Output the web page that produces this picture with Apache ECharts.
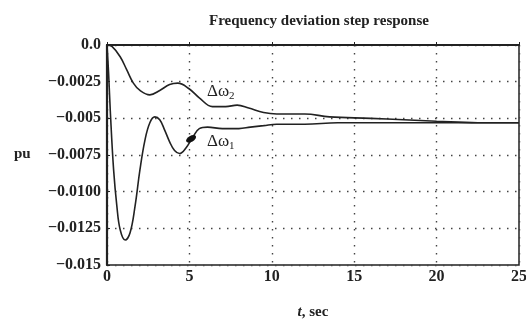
<!DOCTYPE html>
<html>
<head>
<meta charset="utf-8">
<script src="https://cdn.jsdelivr.net/npm/echarts@6/dist/echarts.min.js"></script>
<style>
  html, body { margin: 0; padding: 0; background: #fff; }
  #main { width: 526px; height: 321px; }
</style>
</head>
<body>
<div id="main"></div>
<script>
// values (pu vs seconds)
const times1 = [0, 0.1, 0.2, 0.4, 0.6, 0.8, 1.1, 1.4, 1.7, 2.0, 2.3, 2.6, 2.9, 3.2, 3.5, 3.8, 4.1, 4.4, 4.8, 5.2, 5.6, 6.1, 7, 8, 8.7, 9.5, 10.3, 12, 14, 16, 20, 25]
const dw1 = [0, -0.002, -0.0045, -0.0085, -0.011, -0.0126, -0.0133, -0.0128, -0.011, -0.0085, -0.0065, -0.0053, -0.0049, -0.0051, -0.0058, -0.0066, -0.0072, -0.0074, -0.007, -0.0063, -0.0057, -0.0056, -0.0057, -0.0057, -0.0056, -0.0055, -0.0054, -0.0054, -0.0053, -0.0053, -0.0053, -0.0053]
const times2 = [0, 0.3, 0.8, 1.2, 1.6, 2.0, 2.6, 3.2, 3.8, 4.3, 5.0, 5.6, 6.4, 7.2, 7.9, 8.6, 9.5, 10.3, 12, 13.5, 16, 18, 20, 22.5, 25]
const dw2 = [0, -0.0001, -0.0008, -0.0017, -0.0026, -0.0031, -0.0034, -0.0031, -0.0027, -0.0026, -0.003, -0.0036, -0.0042, -0.0042, -0.0041, -0.0043, -0.0046, -0.0047, -0.0047, -0.0049, -0.005, -0.0051, -0.0052, -0.0053, -0.0053]
const yLabels = { '0': '0.0', '-25': '\u22120.0025', '-50': '\u22120.005', '-75': '\u22120.0075', '-100': '\u22120.0100', '-125': '\u22120.0125', '-150': '\u22120.015' }

const font = '"Liberation Serif", "DejaVu Serif", serif'
const ink = '#222'

const chart = echarts.init(document.getElementById('main'))

const option = {
    animation: false,
    backgroundColor: '#fff',
    title: {
        text: 'Frequency deviation step response',
        left: 314,
        top: 9,
        textAlign: 'center',
        textStyle: { fontFamily: font, fontSize: 15, fontWeight: 'bold', color: ink }
    },
    grid: {
        left: 107, right: 7, top: 45, bottom: 56,
        outerBoundsMode: 'none', containLabel: false,
        show: true, borderColor: ink, borderWidth: 1.5, backgroundColor: 'transparent'
    },
    xAxis: {
        type: 'value',
        min: 0,
        max: 25,
        interval: 5,
        axisLine: { show: true, lineStyle: { color: ink, width: 2.2 } },
        axisTick: { show: true, inside: true, length: 3, lineStyle: { color: ink } },
        axisLabel: { fontFamily: font, fontSize: 16, fontWeight: 'bold', color: ink, margin: 4 },
        splitLine: { show: true, lineStyle: { type: [1.5, 6.5], color: '#444', width: 1.4 } },
        name: '{i|t}, sec',
        nameLocation: 'middle',
        nameGap: 40,
        nameTextStyle: {
            fontFamily: font, fontSize: 15, fontWeight: 'bold', color: ink,
            rich: { i: { fontFamily: font, fontSize: 15, fontStyle: 'italic', fontWeight: 'bold', color: ink } }
        }
    },
    yAxis: {
        type: 'value',
        min: -0.015,
        max: 0,
        interval: 0.0025,
        axisLine: { show: true, lineStyle: { color: ink, width: 2.2 } },
        axisTick: { show: true, inside: true, length: 3, lineStyle: { color: ink } },
        axisLabel: {
            fontFamily: font, fontSize: 16, fontWeight: 'bold', color: ink, margin: 6,
            formatter: v => yLabels[String(Math.round(v * 10000))] || ''
        },
        splitLine: { show: true, lineStyle: { type: [1.5, 6.5], color: '#444', width: 1.4 } }
    },
    graphic: [
        { type: 'text', left: 14, top: 147, style: { text: 'pu', font: 'bold 15px ' + font, fill: ink } },
        {
            type: 'text', left: 207, top: 83,
            style: {
                text: '\u0394\u03c9{s|2}', font: '17px ' + font, fill: ink,
                rich: { s: { fontSize: 11, fontFamily: font, verticalAlign: 'bottom', padding: [9, 0, 0, 0] } }
            }
        },
        {
            type: 'text', left: 207, top: 133,
            style: {
                text: '\u0394\u03c9{s|1}', font: '17px ' + font, fill: ink,
                rich: { s: { fontSize: 11, fontFamily: font, verticalAlign: 'bottom', padding: [9, 0, 0, 0] } }
            }
        }
    ],
    series: [
        {
            name: 'dw1',
            type: 'line',
            smooth: 0.4,
            showSymbol: false,
            lineStyle: { color: ink, width: 1.6 },
            data: times1.map((t, i) => [t, dw1[i]]),
            markPoint: {
                symbol: 'circle',
                symbolSize: [11, 6],
                symbolRotate: 30,
                itemStyle: { color: '#111' },
                label: { show: false },
                data: [{ coord: [5.1, -0.0064] }]
            }
        },
        {
            name: 'dw2',
            type: 'line',
            smooth: 0.4,
            showSymbol: false,
            lineStyle: { color: ink, width: 1.6 },
            data: times2.map((t, i) => [t, dw2[i]])
        }
    ]
}

chart.setOption(option)
</script>
</body>
</html>
